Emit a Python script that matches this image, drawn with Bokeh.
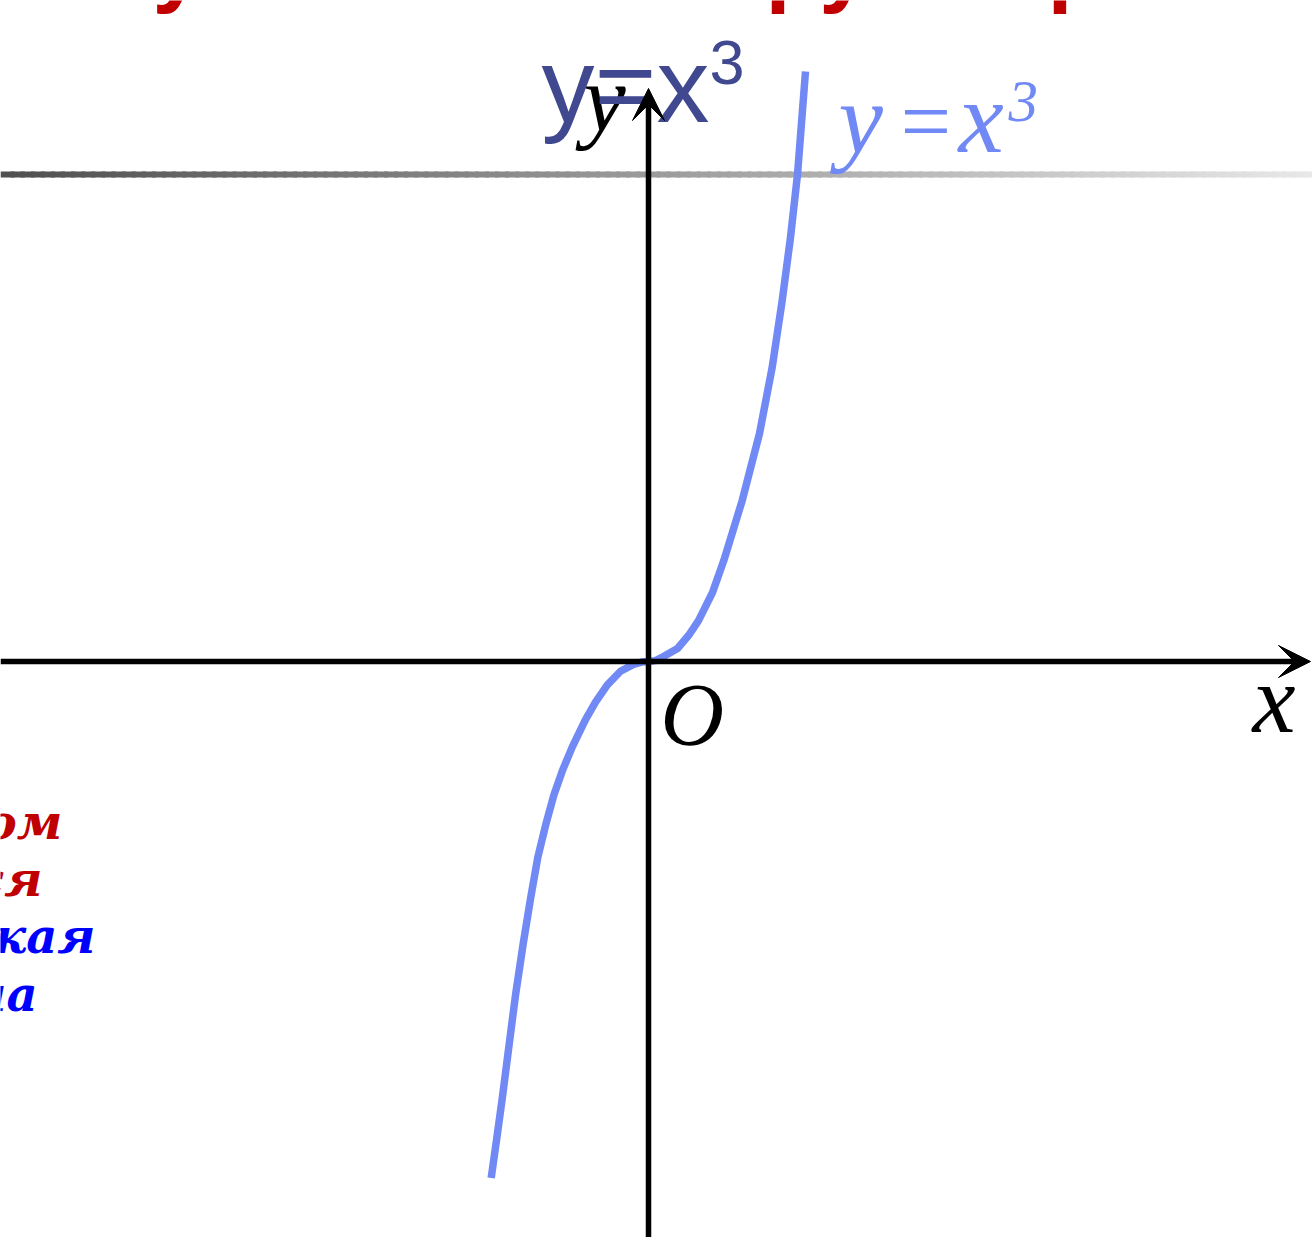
from bokeh.plotting import figure
from bokeh.models import Arrow, VeeHead, Range1d
from bokeh.core.properties import value
from bokeh.embed import file_html
from bokeh.resources import INLINE

# ---- data (x unit = 100 px, y unit = 150 px, origin at the axes crossing)
curve_x = [-1.573, -1.520, -1.463, -1.397, -1.330, -1.253, -1.180, -1.107, -1.023, -0.947,
           -0.863, -0.763, -0.630, -0.530, -0.413, -0.280, -0.150, -0.070, 0.0,
           0.070, 0.150, 0.290, 0.400, 0.500, 0.640, 0.753, 0.937, 1.110, 1.237, 1.337, 1.420,
           1.490, 1.570]
curve_y = [-3.444, -3.191, -2.915, -2.571, -2.225, -1.881, -1.582, -1.306, -1.076, -0.892,
           -0.731, -0.571, -0.387, -0.271, -0.157, -0.065, -0.019, -0.004, 0.0,
           0.006, 0.033, 0.087, 0.173, 0.273, 0.460, 0.673, 1.073, 1.520, 1.962, 2.407, 2.827,
           3.247, 3.933]

left_words = ["ком", "ется", "ская", "ла"]
left_colors = ["#c00000", "#c00000", "#0000ff", "#0000ff"]
title_parts = ["у", "ру", "р"]

W, H = 1312, 1237

def sx(px):
    return (px - 648) / 100.0

def sy(py):
    return (661 - py) / 150.0

X0, X1 = sx(0), sx(W)
Y1, Y0 = sy(0), sy(H)

p = figure(width=W, height=H, x_range=Range1d(X0, X1), y_range=Range1d(Y0, Y1),
           output_backend="svg", toolbar_location=None, x_axis_type=None, y_axis_type=None,
           min_border=0, min_border_left=0, min_border_right=0, min_border_top=0, min_border_bottom=0)
p.grid.visible = False
p.outline_line_color = None
p.background_fill_color = "white"

def txt(xpx, base_px, s, font, size, color, style="normal", align="left"):
    # the svg text baseline lands ~0.35 em below the given point, compensate for it
    p.text(x=[sx(xpx)], y=[sy(base_px - 0.35 * size)], text=[s], text_font=value(font),
           text_font_size=value("%dpx" % size), text_font_style=style, text_color=color,
           text_align=align, text_baseline="alphabetic")

# gradient rule line
n = 130
gx0, gx1, gc = [], [], []
step = (X1 - X0) / n
for i in range(n):
    a = X0 + step * i
    t = i / (n - 1)
    c = int(80 + (232 - 80) * t)
    gx0.append(a); gx1.append(a + step * 1.4); gc.append("#%02x%02x%02x" % (c, c, c))
p.segment(x0=gx0, y0=[sy(174)] * n, x1=gx1, y1=[sy(174)] * n, line_color=gc, line_width=6)

# red title fragments (only descenders visible)
for s, px in zip(title_parts, [152, 765, 1047]):
    txt(px, -5, s, "Liberation Sans", 90, "#c00000", style="bold")

# left text fragments
for s, col, rx, by in zip(left_words, left_colors, [62, 42, 95, 37], [838, 895, 952, 1010]):
    txt(rx, by, s, "DejaVu Serif", 48, col, style="bold italic", align="right")

# axes with arrows
p.add_layout(Arrow(end=VeeHead(size=32, fill_color="black", line_color="black", line_width=1),
                   x_start=X0, y_start=0, x_end=sx(1310), y_end=0,
                   line_color="black", line_width=5.5))
p.add_layout(Arrow(end=VeeHead(size=32, fill_color="black", line_color="black", line_width=1),
                   x_start=0, y_start=Y0, x_end=0, y_end=sy(88),
                   line_color="black", line_width=5.5))

# the curve
p.line(curve_x, curve_y, line_color="#7189f5", line_width=7.5, line_join="round")

# axis labels
txt(660, 745, "O", "Liberation Serif", 88, "black", style="italic")
txt(1252, 733, "x", "Liberation Serif", 97, "black", style="italic")
txt(583, 132, "y", "Liberation Serif", 95, "black", style="italic")

# light blue curve label
txt(838, 154, "y", "Liberation Serif", 100, "#7189f5", style="italic")
txt(900, 152, "=", "Liberation Serif", 90, "#7189f5")
txt(958, 153, "x", "Liberation Serif", 102, "#7189f5", style="italic")
txt(1008, 122, "3", "Liberation Serif", 59, "#7189f5", style="italic")

# dark blue heading on top
txt(541, 122, "y=x", "Liberation Sans", 106, "#404890")
txt(709, 84, "3", "Liberation Sans", 63, "#404890")

open("out.html", "w").write(file_html(p, INLINE))
